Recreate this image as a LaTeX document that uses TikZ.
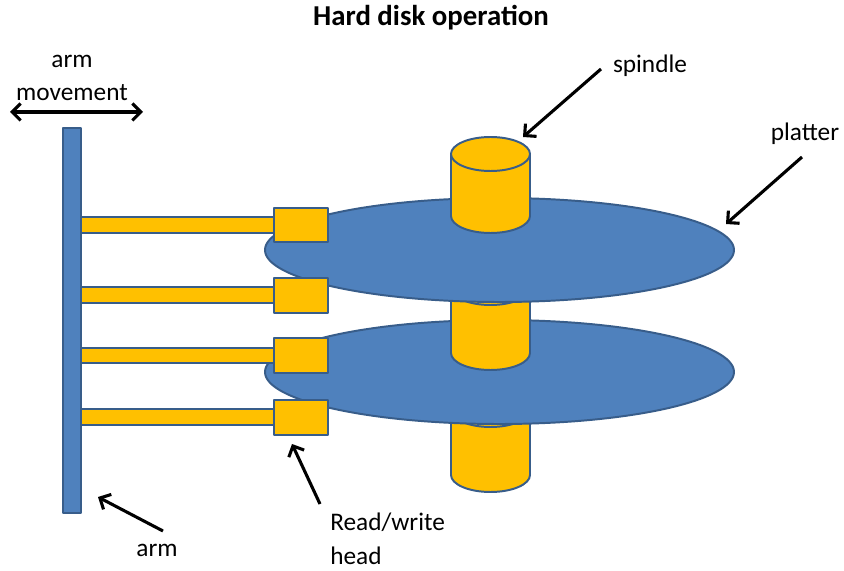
\documentclass[tikz,border=0pt]{standalone}
\usepackage{fontspec}
\setmainfont{Carlito}
\usetikzlibrary{arrows.meta}

\definecolor{diskblue}{HTML}{4F81BD}
\definecolor{edgeblue}{HTML}{385D8A}
\definecolor{spinyellow}{HTML}{FFC000}

\tikzset{
    part/.style = {draw=edgeblue, line width=1.4pt, line join=round},
    platter/.style = {part, fill=diskblue},
    yellowpart/.style = {part, fill=spinyellow},
    armbar/.style = {draw=edgeblue, line width=0.8pt, fill=spinyellow},
    barb/.tip = {Straight Barb[length=6pt,width=12pt,line width=2.2pt]},
    pointer/.style = {line width=2.2pt, -barb},
    label/.style = {font=\fontsize{18}{22}\selectfont, inner sep=0pt}
}

% one spindle piece: top centre y, bottom centre y
\newcommand{\spinpiece}[2]{%
    \draw[yellowpart] (451,#1) -- (451,#2)
        arc[start angle=180, end angle=0, x radius=39.5, y radius=17]
        -- (530,#1) -- cycle;
    \draw[yellowpart] (490.5,#1) ellipse [x radius=39.5, y radius=17];
}

\begin{document}
\begin{tikzpicture}[x=0.025cm, y=-0.025cm]
        \useasboundingbox (0,0) rectangle (844,571);

        \node[font=\bfseries\fontsize{20.5}{24}\selectfont] (title) at (431,18) {Hard disk operation};

        % spindle and platters, back to front
        \spinpiece{410}{475}
        \draw[platter] (499.5,372) ellipse [x radius=234.5, y radius=52];
        \spinpiece{288}{353}
        \draw[platter] (499.5,250) ellipse [x radius=234.5, y radius=52];
        \spinpiece{154}{216}

        % arm with its four bars and heads
        \draw[armbar] (81,217) rectangle (276,233);
        \draw[armbar] (81,287) rectangle (276,303);
        \draw[armbar] (81,348) rectangle (276,363);
        \draw[armbar] (81,409) rectangle (276,425);
        \draw[part, fill=diskblue] (63,128) rectangle (81,513);

        \draw[yellowpart] (274,208) rectangle (328,242);
        \draw[yellowpart] (274,278) rectangle (328,313);
        \draw[yellowpart] (274,338) rectangle (328,373);
        \draw[yellowpart] (274,400) rectangle (328,435);

        % labels
        \node[label, align=center] (move) at (72,78) {arm\\[2pt]movement};
        \node[label] (spl) at (650,66) {spindle};
        \node[label] (pl) at (805,134) {platter};
        \node[label] (arm) at (157,550) {arm};
        \node[label, align=left, anchor=west] (head) at (330,539) {Read/write\\[2pt]head};

        \coordinate (moveL) at (10,112);
        \coordinate (moveR) at (143,112);
        \coordinate (splA) at (601,69);
        \coordinate (splB) at (523,137);
        \coordinate (plA) at (802,157);
        \coordinate (plB) at (726,224);
        \coordinate (armA) at (163,531);
        \coordinate (armB) at (98,497);
        \coordinate (headA) at (320,504);
        \coordinate (headB) at (292,444);

        % pointers
        \draw[pointer, barb-barb] (moveL) -- (moveR);
        \draw[pointer] (splA) -- (splB);
        \draw[pointer] (plA) -- (plB);
        \draw[pointer] (armA) -- (armB);
        \draw[pointer] (headA) -- (headB);
\end{tikzpicture}
\end{document}
